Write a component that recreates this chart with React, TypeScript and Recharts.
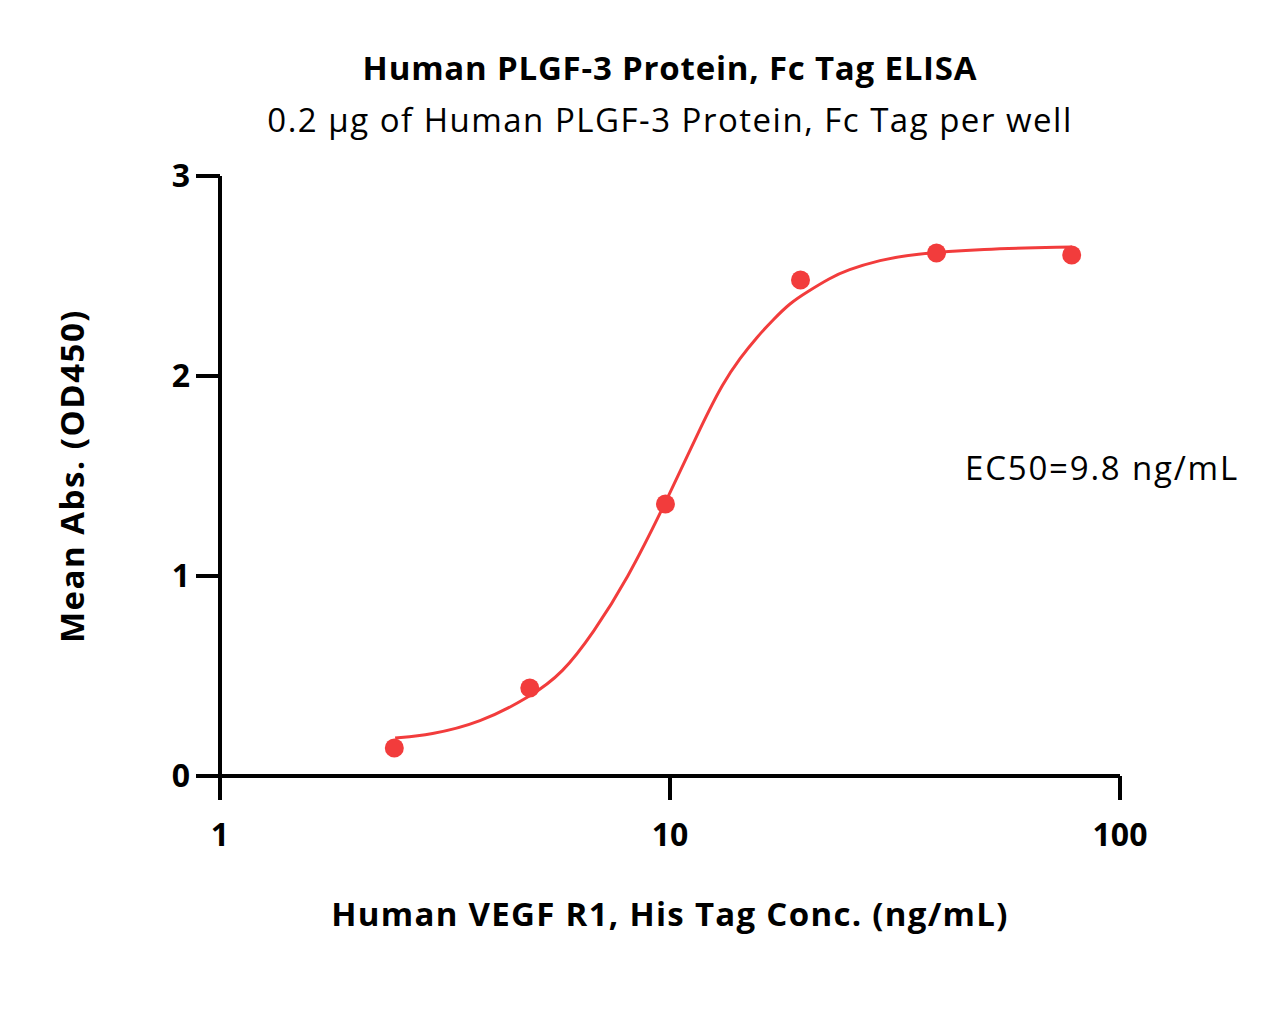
import React from 'react';
import { ComposedChart, Line, Scatter, XAxis, YAxis } from 'recharts';

const concentrations = [2.44, 4.88, 9.77, 19.5, 39.1, 78.1];
const absorbance = [0.14, 0.44, 1.36, 2.48, 2.615, 2.605];

const curveConc = [2.45, 2.93, 3.78, 4.89, 5.78, 6.75, 8.02, 9.75, 11.84, 13.12, 14.31, 15.61, 16.93, 18.48, 20.16, 22.68, 24.74, 29.29, 34.67, 48.9, 78.2];
const curveAbs = [0.19, 0.205, 0.265, 0.395, 0.515, 0.715, 0.98, 1.36, 1.77, 1.965, 2.09, 2.195, 2.28, 2.365, 2.42, 2.49, 2.53, 2.58, 2.61, 2.635, 2.645];

const xTicks = [1, 10, 100];
const yTicks = [0, 1, 2, 3];

const title = 'Human PLGF-3 Protein, Fc Tag ELISA';
const subtitle = '0.2 μg of Human PLGF-3 Protein, Fc Tag per well';
const xLabel = 'Human VEGF R1, His Tag Conc. (ng/mL)';
const yLabel = 'Mean Abs. (OD450)';
const ec50Text = 'EC50=9.8 ng/mL';

const points = concentrations.map((x, i) => ({ x, y: absorbance[i] }));
const curve = curveConc.map((x, i) => ({ x, y: curveAbs[i] }));

const RED = '#F23C3C';
const FONT = '"Open Sans", "Noto Sans", sans-serif';

const W = 1267;
const H = 1016;

export default function App() {
  return (
    <div style={{ position: 'relative', width: W, height: H, fontFamily: FONT, color: '#000' }}>
      <ComposedChart
        width={W}
        height={H}
        margin={{ top: 168, right: 155, bottom: 168, left: 132 }}
      >
        <XAxis
          type="number"
          dataKey="x"
          scale="log"
          domain={[1, 100]}
          ticks={xTicks}
          allowDataOverflow
          axisLine={{ stroke: '#000', strokeWidth: 4 }}
          tickLine={{ stroke: '#000', strokeWidth: 4 }}
          tickSize={24}
          tickMargin={23}
          height={80}
          tick={{ fill: '#000', fontSize: 32, fontWeight: 700, fontFamily: FONT }}
        />
        <YAxis
          type="number"
          dataKey="y"
          domain={[0, 3]}
          ticks={yTicks}
          axisLine={{ stroke: '#000', strokeWidth: 4 }}
          tickLine={{ stroke: '#000', strokeWidth: 4 }}
          tickSize={24}
          tickMargin={6}
          width={80}
          tick={{ fill: '#000', fontSize: 32, fontWeight: 700, fontFamily: FONT }}
        />
        <Line
          data={curve}
          dataKey="y"
          type="basis"
          stroke={RED}
          strokeWidth={3}
          dot={false}
          activeDot={false}
          isAnimationActive={false}
        />
        <Scatter
          data={points}
          dataKey="y"
          fill={RED}
          isAnimationActive={false}
          shape={(p: any) => <circle cx={p.cx} cy={p.cy} r={9.5} fill={RED} />}
        />
      </ComposedChart>
      <div style={{ position: 'absolute', left: 0, width: 1324, top: 40, textAlign: 'center', fontSize: 33, fontWeight: 700, letterSpacing: 0.8, lineHeight: '40px', whiteSpace: 'nowrap' }}>
        {title}
      </div>
      <div style={{ position: 'absolute', left: 0, width: 1324, top: 92, textAlign: 'center', fontSize: 33, letterSpacing: 1.5, lineHeight: '40px', whiteSpace: 'nowrap' }}>
        {subtitle}
      </div>
      <div style={{ position: 'absolute', left: 0, width: 1324, top: 886, textAlign: 'center', fontSize: 33, fontWeight: 700, letterSpacing: 1.3, lineHeight: '40px', whiteSpace: 'nowrap' }}>
        {xLabel}
      </div>
      <div style={{ position: 'absolute', left: 64 - 300, top: 468 - 20, width: 600, textAlign: 'center', fontSize: 33, fontWeight: 700, letterSpacing: 1.5, lineHeight: '40px', whiteSpace: 'nowrap', transform: 'rotate(-90deg)' }}>
        {yLabel}
      </div>
      <div style={{ position: 'absolute', left: 957, top: 440, fontSize: 33, letterSpacing: 1.8, lineHeight: '40px', whiteSpace: 'nowrap' }}>
        {ec50Text}
      </div>
    </div>
  );
}
